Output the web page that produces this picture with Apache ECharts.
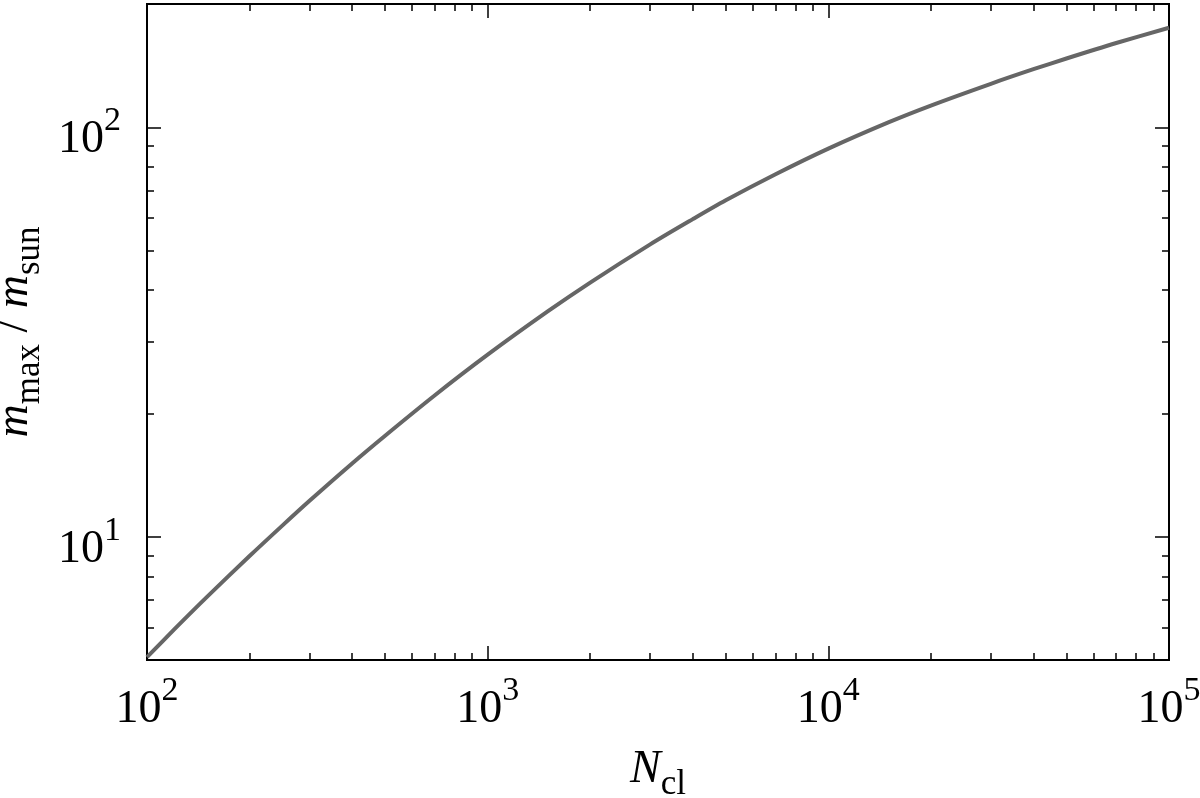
<!DOCTYPE html>
<html>
<head>
<meta charset="utf-8">
<script src="https://cdn.jsdelivr.net/npm/echarts@6/dist/echarts.min.js"></script>
<style>
html,body{margin:0;padding:0;background:#fff;}
#chart{width:1200px;height:798px;}
</style>
</head>
<body>
<div id="chart"></div>
<script>
// Data
const nCluster = [100, 120, 150, 200, 250, 300, 400, 500, 700, 1000, 1500, 2000, 3000, 4000, 5000, 7000, 10000, 15000, 20000, 30000, 40000, 50000, 70000, 100000];
const mMaxOverSun = [5.08, 5.93, 7.13, 8.97, 10.66, 12.24, 15.10, 17.65, 22.16, 27.83, 35.49, 41.75, 51.76, 59.65, 66.33, 76.80, 88.7, 102.8, 113.0, 127.7, 138.6, 147.2, 160.6, 175.0];

const xMajorTicks = [100, 1000, 10000, 100000];
const xMinorTicks = [200, 300, 400, 500, 600, 700, 800, 900, 2000, 3000, 4000, 5000, 6000, 7000, 8000, 9000, 20000, 30000, 40000, 50000, 60000, 70000, 80000, 90000];
const yMajorTicks = [10, 100];
const yMinorTicks = [6, 7, 8, 9, 20, 30, 40, 50, 60, 70, 80, 90];

const FONT = 'Liberation Serif';
const X_MIN = 100, X_MAX = 100000, Y_MIN = 5, Y_MAX = 200;

const powRich = {
  b: { fontFamily: FONT, fontSize: 46, lineHeight: 46, padding: [13, 0, 0, 0], verticalAlign: 'top', color: '#000' },
  s: { fontFamily: FONT, fontSize: 34, lineHeight: 34, verticalAlign: 'top', color: '#000' }
};
function powLabel(v) {
  return '{b|10}{s|' + Math.round(Math.log10(v)) + '}';
}
const nameRich = {
  i: { fontFamily: FONT, fontStyle: 'italic', fontSize: 46, lineHeight: 46, verticalAlign: 'top', color: '#000' },
  r: { fontFamily: FONT, fontSize: 46, lineHeight: 46, verticalAlign: 'top', color: '#000' },
  sub: { fontFamily: FONT, fontSize: 35, lineHeight: 35, padding: [20, 0, 0, 0], verticalAlign: 'top', color: '#000' }
};

function tickAxis(kind, position, values, len, extra) {
  const base = {
    type: 'log', logBase: 10, position: position,
    min: kind === 'x' ? X_MIN : Y_MIN,
    max: kind === 'x' ? X_MAX : Y_MAX,
    axisLine: { show: false },
    splitLine: { show: false },
    axisTick: { show: true, inside: true, length: len, customValues: values, lineStyle: { color: '#000', width: 1.5 } },
    axisLabel: { show: false }
  };
  return Object.assign(base, extra || {});
}

const chart = echarts.init(document.getElementById('chart'), null, { renderer: 'canvas' });
chart.setOption({
  animation: false,
  backgroundColor: '#fff',
  textStyle: { fontFamily: FONT },
  grid: { left: 147, right: 31, top: 4, bottom: 138, outerBoundsMode: 'none', containLabel: false, show: true, borderColor: '#000', borderWidth: 2, backgroundColor: 'transparent' },
  xAxis: [
    tickAxis('x', 'bottom', xMajorTicks, 14, {
      axisLabel: { show: true, customValues: xMajorTicks, margin: 14, formatter: powLabel, rich: powRich },
      name: '{i|N}{sub|cl}', nameLocation: 'middle', nameGap: 87,
      nameTextStyle: { rich: nameRich }
    }),
    tickAxis('x', 'bottom', xMinorTicks, 7),
    tickAxis('x', 'top', xMajorTicks, 14),
    tickAxis('x', 'top', xMinorTicks, 7)
  ],
  yAxis: [
    tickAxis('y', 'left', yMajorTicks, 14, {
      axisLabel: { show: true, customValues: yMajorTicks, margin: 26, formatter: powLabel, rich: powRich },
      name: '{i|m}{sub|max}{r| / }{i|m}{sub|sun}', nameLocation: 'middle', nameGap: 79, nameRotate: 90,
      nameTextStyle: { rich: nameRich }
    }),
    tickAxis('y', 'left', yMinorTicks, 7),
    tickAxis('y', 'right', yMajorTicks, 14),
    tickAxis('y', 'right', yMinorTicks, 7)
  ],
  series: [{
    type: 'line',
    xAxisIndex: 0,
    yAxisIndex: 0,
    data: nCluster.map((n, i) => [n, mMaxOverSun[i]]),
    showSymbol: false,
    smooth: 0.3,
    lineStyle: { color: '#666666', width: 4 }
  }]
});
</script>
</body>
</html>
